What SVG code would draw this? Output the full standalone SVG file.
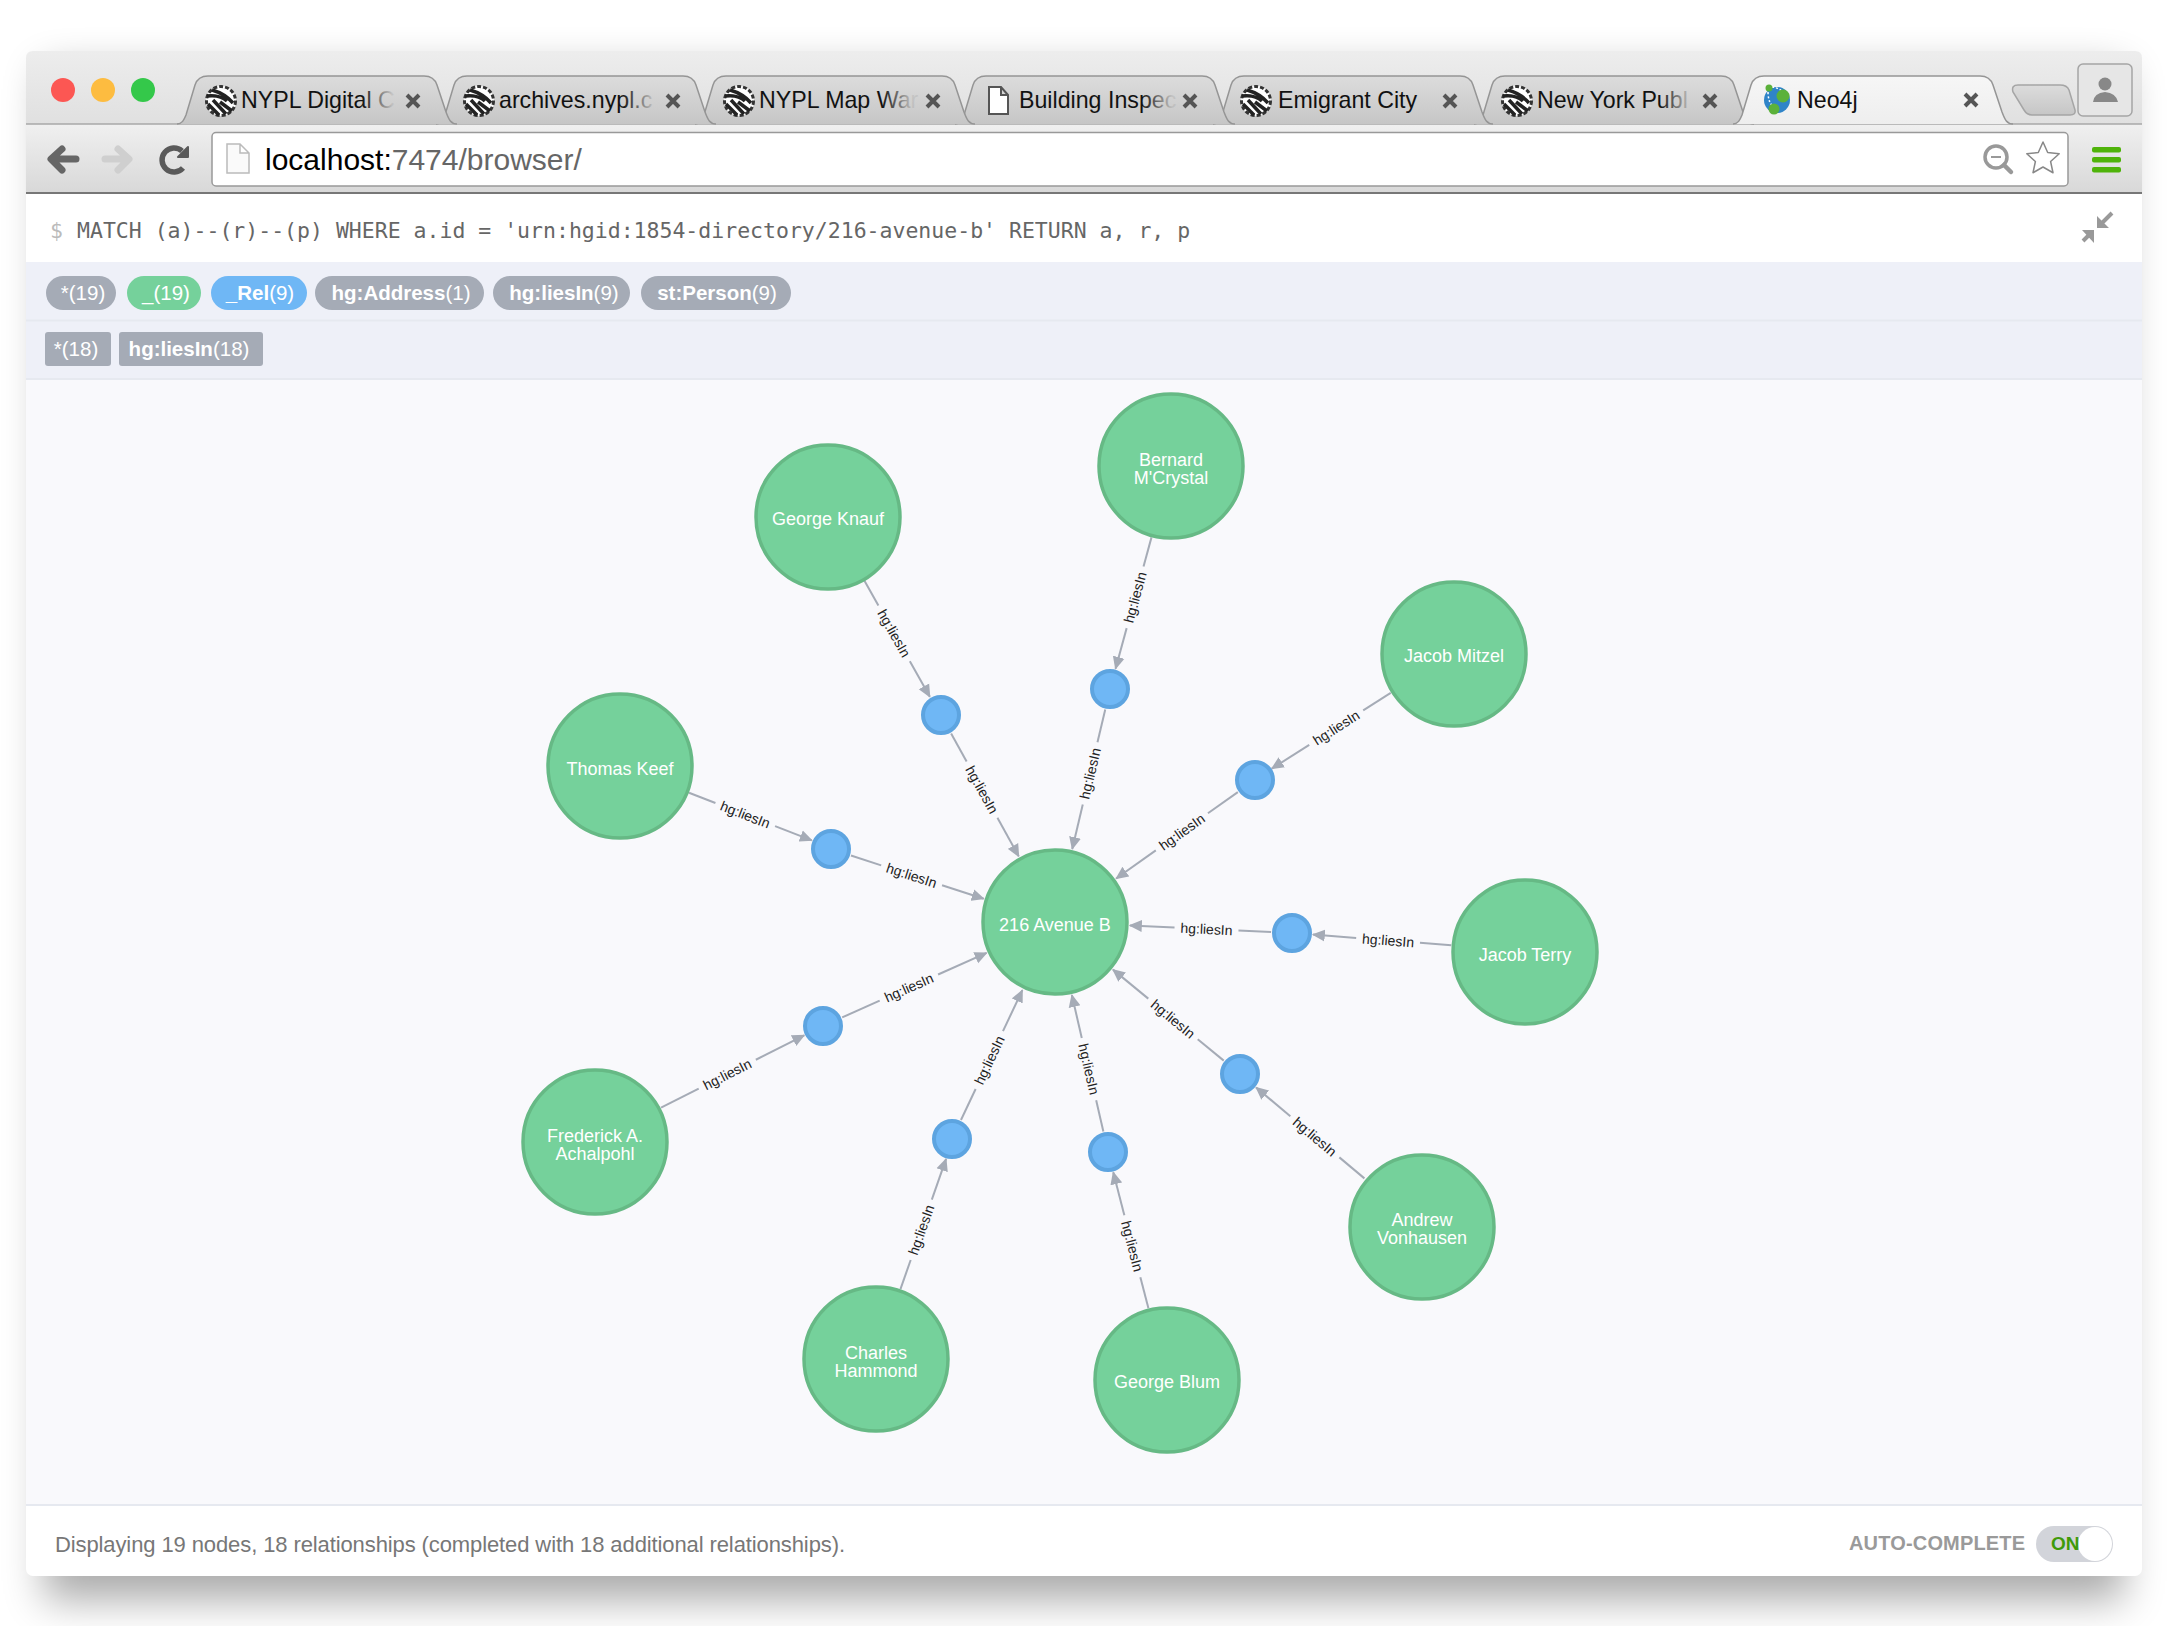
<svg xmlns="http://www.w3.org/2000/svg" xmlns:xlink="http://www.w3.org/1999/xlink" width="2168" height="1626" viewBox="0 0 2168 1626">
<style>
text{font-family:"Liberation Sans",Arial,sans-serif}
.tt{font-size:23.2px;fill:#111}
.x{stroke:#555;stroke-width:4;fill:none}
.c{stroke:#A5ABB6;stroke-width:2;fill:none}
.a{marker-end:url(#arrow)}
.l{font-size:14px;fill:#222;text-anchor:middle}
.n{fill:#75D19B;stroke:#66B985;stroke-width:3.5}
.r{fill:#6FB7F5;stroke:#5DA4E0;stroke-width:4}
.nt{font-size:18px;fill:#fff;text-anchor:middle}
.p{font-size:20.5px;fill:#fff;text-anchor:middle}
.p tspan{font-weight:bold}
.gp{fill:#A5ABB6}
</style>
<defs>
<filter id="sh" x="-10%" y="-10%" width="120%" height="120%"><feGaussianBlur stdDeviation="20"/></filter>
<linearGradient id="strip" x1="0" y1="0" x2="0" y2="1"><stop offset="0" stop-color="#EDEDED"/><stop offset="1" stop-color="#E0E0E0"/></linearGradient>
<linearGradient id="bar" x1="0" y1="0" x2="0" y2="1"><stop offset="0" stop-color="#F0F0F0"/><stop offset="1" stop-color="#D8D8D8"/></linearGradient>
<linearGradient id="tabg" x1="0" y1="0" x2="0" y2="1"><stop offset="0" stop-color="#DCDCDC"/><stop offset="1" stop-color="#C6C6C6"/></linearGradient>
<linearGradient id="tabon" x1="0" y1="0" x2="0" y2="1"><stop offset="0" stop-color="#F6F6F6"/><stop offset="1" stop-color="#EEEEEE"/></linearGradient>
<linearGradient id="f1" gradientUnits="userSpaceOnUse" x1="362" y1="0" x2="392" y2="0"><stop offset="0" stop-color="#111"/><stop offset="1" stop-color="#111" stop-opacity=".08"/></linearGradient>
<linearGradient id="f2" gradientUnits="userSpaceOnUse" x1="622" y1="0" x2="653" y2="0"><stop offset="0" stop-color="#111"/><stop offset="1" stop-color="#111" stop-opacity=".08"/></linearGradient>
<linearGradient id="f3" gradientUnits="userSpaceOnUse" x1="882" y1="0" x2="912" y2="0"><stop offset="0" stop-color="#111"/><stop offset="1" stop-color="#111" stop-opacity=".08"/></linearGradient>
<linearGradient id="f4" gradientUnits="userSpaceOnUse" x1="1142" y1="0" x2="1172" y2="0"><stop offset="0" stop-color="#111"/><stop offset="1" stop-color="#111" stop-opacity=".08"/></linearGradient>
<linearGradient id="f6" gradientUnits="userSpaceOnUse" x1="1660" y1="0" x2="1690" y2="0"><stop offset="0" stop-color="#111"/><stop offset="1" stop-color="#111" stop-opacity=".08"/></linearGradient>
<marker id="arrow" markerUnits="userSpaceOnUse" markerWidth="13" markerHeight="13" viewBox="0 0 12 12" refX="11" refY="6" orient="auto"><path d="M0 0.5L12 6L0 11.5z" fill="#A5ABB6"/></marker>
<path id="tab" d="M177 124C182 124 184 120 186 115L195 85Q198 76 208 76H424Q434 76 437 85L446 112C449 120 451 124 457 124"/>
<g id="fav"><circle r="15" fill="#fff"/><circle r="14.500" fill="none" stroke="#333" stroke-width="3" stroke-dasharray="4 2"/><path d="M-9 -11C-2 -9 6 -5 12 2M-14 -5C-6 -6 2 -4 6 0M-13 3L-2 14M-8 -1L5 13M-1 1L11 10" fill="none" stroke="#222" stroke-width="3.500"/></g>
</defs>
<rect width="2168" height="1626" fill="#fff"/>
<rect x="44" y="70" width="2080" height="1530" fill="#000" opacity=".33" filter="url(#sh)"/>
<g id="window">
<rect x="26" y="51" width="2116" height="1525" rx="7" fill="#fff"/>
<path d="M26 124V58Q26 51 33 51H2135Q2142 51 2142 58V124Z" fill="url(#strip)"/>
<rect x="26" y="124" width="2116" height="69" fill="url(#bar)"/>
<line x1="26" y1="124" x2="2142" y2="124" stroke="#A8A8A8" stroke-width="1.500"/>
<line x1="26" y1="193" x2="2142" y2="193" stroke="#777" stroke-width="2"/>
</g>
<g id="lights"><circle cx="63" cy="90" r="12" fill="#FC5753"/><circle cx="103" cy="90" r="12" fill="#FDBC40"/><circle cx="143" cy="90" r="12" fill="#34C84A"/></g>
<g id="tabs" stroke="#959595" stroke-width="1.500" fill="url(#tabg)">
<use xlink:href="#tab" href="#tab" transform="translate(1297 0)"/>
<use xlink:href="#tab" href="#tab" transform="translate(1036 0)"/>
<use xlink:href="#tab" href="#tab" transform="translate(778 0)"/>
<use xlink:href="#tab" href="#tab" transform="translate(518 0)"/>
<use xlink:href="#tab" href="#tab" transform="translate(259 0)"/>
<use xlink:href="#tab" href="#tab"/>
<use xlink:href="#tab" href="#tab" transform="translate(1556 0)" fill="url(#tabon)"/>
<path d="M2018 85H2060Q2067 85 2069 90L2075 110Q2076 115 2070 115H2032Q2027 115 2024 110L2013 92Q2011 85 2018 85Z" fill="url(#tabg)" stroke="#A5A5A5"/>
</g>
<g id="tabcontent">
<use href="#fav" xlink:href="#fav" transform="translate(221 101)"/><text class="tt" x="241" y="108" style="fill:url(#f1)">NYPL Digital C</text><path class="x" d="M407 95L419 107M419 95L407 107"/>
<use href="#fav" xlink:href="#fav" transform="translate(479 101)"/><text class="tt" x="499" y="108" style="fill:url(#f2)">archives.nypl.c</text><path class="x" d="M667 95L679 107M679 95L667 107"/>
<use href="#fav" xlink:href="#fav" transform="translate(739 101)"/><text class="tt" x="759" y="108" style="fill:url(#f3)">NYPL Map War</text><path class="x" d="M927 95L939 107M939 95L927 107"/>
<path d="M989 87H1001L1008 95V114H989Z M1001 87V95H1008" fill="#fff" stroke="#555" stroke-width="2"/><text class="tt" x="1019" y="108" style="fill:url(#f4)">Building Inspec</text><path class="x" d="M1184 95L1196 107M1196 95L1184 107"/>
<use href="#fav" xlink:href="#fav" transform="translate(1256 101)"/><text class="tt" x="1278" y="108">Emigrant City</text><path class="x" d="M1444 95L1456 107M1456 95L1444 107"/>
<use href="#fav" xlink:href="#fav" transform="translate(1517 101)"/><text class="tt" x="1537" y="108" style="fill:url(#f6)">New York Publ</text><path class="x" d="M1704 95L1716 107M1716 95L1704 107"/>
<circle cx="1777" cy="100" r="13" fill="#2F84C8"/><path d="M1768 92Q1768 104 1776 109M1772 87Q1780 88 1785 94" fill="none" stroke="#fff" stroke-width="1.500" stroke-dasharray="2 2"/><circle cx="1783" cy="96" r="6.500" fill="#5BB13A"/><circle cx="1774" cy="109" r="5.500" fill="#5BB13A"/><circle cx="1769" cy="88" r="3.500" fill="#5BB13A"/><text class="tt" x="1797" y="108">Neo4j</text><path class="x" d="M1965 94L1977 106M1977 94L1965 106"/>
</g>
<g id="profile"><rect x="2078" y="64" width="54" height="52" rx="5" fill="#E6E6E6" stroke="#A5A5A5" stroke-width="1.500"/><circle cx="2105" cy="84" r="6.500" fill="#888"/><path d="M2093 102Q2094 93 2105 92Q2116 93 2118 102Z" fill="#888"/></g>
<g id="nav" fill="none" stroke-linecap="round" stroke-linejoin="round">
<path d="M76 159H52M62 149L51 159L62 170" stroke="#666" stroke-width="7"/>
<path d="M105 159H128M118 149L129 159L118 170" stroke="#CFCFCF" stroke-width="7"/>
<path d="M183 168A12 12 0 1 1 182 151" stroke="#5A5A5A" stroke-width="5.500" stroke-linecap="butt"/><path d="M178 157L188 157L188 147Z" fill="#5A5A5A" stroke="#5A5A5A" stroke-width="2"/>
</g>
<g id="address">
<rect x="212" y="132.500" width="1856" height="53.500" rx="4" fill="#fff" stroke="#999" stroke-width="1.500"/>
<path d="M227 144H240L249 153V173H227Z M240 144V153H249" fill="#FAFAFA" stroke="#BBB" stroke-width="1.500"/>
<text x="265" y="170" font-size="30" fill="#000">localhost:<tspan fill="#666">7474/browser/</tspan></text>
<circle cx="1996" cy="157" r="11" fill="none" stroke="#999" stroke-width="3.500"/><path d="M1991 157H2001" stroke="#999" stroke-width="2"/><path d="M2004 165L2011 172" stroke="#999" stroke-width="4.500" stroke-linecap="round"/>
<path d="M2043 142L2047.700 152.500L2059.200 153.750L2050.600 161.500L2053 172.750L2043 167L2033 172.750L2035.400 161.500L2026.800 153.750L2038.300 152.500Z" fill="#fff" stroke="#888" stroke-width="1.500" stroke-linejoin="round"/>
<g fill="#4FB30A"><rect x="2092" y="147" width="29" height="5.500" rx="2"/><rect x="2092" y="157" width="29" height="5.500" rx="2"/><rect x="2092" y="167" width="29" height="5.500" rx="2"/></g>
</g>
<g id="query">
<text x="50" y="238" font-size="21.500" fill="#bbb" style="font-family:'DejaVu Sans Mono','Liberation Mono',monospace">$</text>
<text x="77" y="238" font-size="21.500" fill="#666" style="font-family:'DejaVu Sans Mono','Liberation Mono',monospace">MATCH (a)--(r)--(p) WHERE a.id = 'urn:hgid:1854-directory/216-avenue-b' RETURN a, r, p</text>
<path d="M2112 213L2102 223M2083 241L2092 232" fill="none" stroke="#999" stroke-width="4"/>
<path d="M2097 228V216L2109 228ZM2094 230V243L2082 230Z" fill="#999"/>
</g>
<g id="filters">
<rect x="26" y="262" width="2116" height="117" fill="#EEF0F8"/>
<line x1="26" y1="320.500" x2="2142" y2="320.500" stroke="#E6E9F0" stroke-width="2"/>
<line x1="26" y1="379" x2="2142" y2="379" stroke="#E6E9F0" stroke-width="2"/>
<rect class="gp" x="46" y="276" width="70" height="34" rx="17"/><text class="p" x="83" y="300">*(19)</text>
<rect x="127" y="276" width="74" height="34" rx="17" fill="#75D19B"/><text class="p" x="166" y="300">_(19)</text>
<rect x="211" y="276" width="96" height="34" rx="17" fill="#6FB7F5"/><text class="p" x="260" y="300"><tspan>_Rel</tspan>(9)</text>
<rect class="gp" x="315" y="276" width="169" height="34" rx="17"/><text class="p" x="401" y="300"><tspan>hg:Address</tspan>(1)</text>
<rect class="gp" x="493" y="276" width="137" height="34" rx="17"/><text class="p" x="564" y="300"><tspan>hg:liesIn</tspan>(9)</text>
<rect class="gp" x="641" y="276" width="150" height="34" rx="17"/><text class="p" x="717" y="300"><tspan>st:Person</tspan>(9)</text>
<rect class="gp" x="45" y="332" width="66" height="34" rx="3"/><text class="p" x="76" y="356">*(18)</text>
<rect class="gp" x="119" y="332" width="144" height="34" rx="3"/><text class="p" x="189" y="356"><tspan>hg:liesIn</tspan>(18)</text>
</g>
<rect id="canvas" x="26" y="380" width="2116" height="1124" fill="#F9F9FC"/>
<g id="connectors">
<g transform="translate(828 516) rotate(60.600)"><line class="c" x1="74" x2="102.700"/><line class="c a" x1="166.700" x2="207.400"/><text class="l" x="134.700" y="5">hg:liesIn</text></g>
<g transform="translate(1110 689) rotate(-74.700)"><line class="c" x1="127.100" x2="157.200"/><line class="c a" x1="63.100" x2="21"/><text class="l" x="95.100" y="5">hg:liesIn</text></g>
<g transform="translate(1254 780) rotate(-32.500)"><line class="c" x1="129.500" x2="162.100"/><line class="c a" x1="65.500" x2="21"/><text class="l" x="97.500" y="5">hg:liesIn</text></g>
<g transform="translate(620 766) rotate(21.200)"><line class="c" x1="74" x2="102.350"/><line class="c a" x1="166.350" x2="205.700"/><text class="l" x="134.350" y="5">hg:liesIn</text></g>
<g transform="translate(1292 933) rotate(4.400)"><line class="c" x1="128.350" x2="159.700"/><line class="c a" x1="64.350" x2="21"/><text class="l" x="96.350" y="5">hg:liesIn</text></g>
<g transform="translate(595 1141) rotate(-26.800)"><line class="c" x1="74" x2="116.200"/><line class="c a" x1="180.200" x2="234.400"/><text class="l" x="148.200" y="5">hg:liesIn</text></g>
<g transform="translate(876 1359) rotate(-70.700)"><line class="c" x1="74" x2="104.900"/><line class="c a" x1="168.900" x2="212"/><text class="l" x="136.900" y="5">hg:liesIn</text></g>
<g transform="translate(1108 1152) rotate(75.500)"><line class="c" x1="129.250" x2="161.500"/><line class="c a" x1="65.250" x2="21"/><text class="l" x="97.250" y="5">hg:liesIn</text></g>
<g transform="translate(1240 1074) rotate(40)"><line class="c" x1="129.700" x2="162.400"/><line class="c a" x1="65.700" x2="21"/><text class="l" x="97.700" y="5">hg:liesIn</text></g>
<g transform="translate(941 715) rotate(61.200)"><line class="c" x1="21" x2="53.150"/><line class="c a" x1="117.150" x2="161.300"/><text class="l" x="85.150" y="5">hg:liesIn</text></g>
<g transform="translate(1055 922) rotate(-76.700)"><line class="c" x1="184.700" x2="218.400"/><line class="c a" x1="120.700" x2="75"/><text class="l" x="152.700" y="5">hg:liesIn</text></g>
<g transform="translate(1055 922) rotate(-35.400)"><line class="c" x1="187.650" x2="224.300"/><line class="c a" x1="123.650" x2="75"/><text class="l" x="155.650" y="5">hg:liesIn</text></g>
<g transform="translate(831 849) rotate(18.050)"><line class="c" x1="21" x2="52.800"/><line class="c a" x1="116.800" x2="160.600"/><text class="l" x="84.800" y="5">hg:liesIn</text></g>
<g transform="translate(1055 922) rotate(2.660)"><line class="c" x1="183.650" x2="216.300"/><line class="c a" x1="119.650" x2="75"/><text class="l" x="151.650" y="5">hg:liesIn</text></g>
<g transform="translate(823 1026) rotate(-24.100)"><line class="c" x1="21" x2="62.100"/><line class="c a" x1="126.100" x2="179.200"/><text class="l" x="94.100" y="5">hg:liesIn</text></g>
<g transform="translate(952 1139) rotate(-64.700)"><line class="c" x1="21" x2="55.300"/><line class="c a" x1="119.300" x2="164.600"/><text class="l" x="87.300" y="5">hg:liesIn</text></g>
<g transform="translate(1055 922) rotate(77)"><line class="c" x1="183" x2="215"/><line class="c a" x1="119" x2="75"/><text class="l" x="151" y="5">hg:liesIn</text></g>
<g transform="translate(1055 922) rotate(39.400)"><line class="c" x1="184.700" x2="218.400"/><line class="c a" x1="120.700" x2="75"/><text class="l" x="152.700" y="5">hg:liesIn</text></g>
</g>
<g id="node-center"><circle class="n" cx="1055" cy="922" r="72"/><text class="nt" x="1055" y="931">216 Avenue B</text></g>
<g id="node-george-knauf"><circle class="n" cx="828" cy="517" r="72"/><text class="nt" x="828" y="525">George Knauf</text></g>
<g id="node-bernard"><circle class="n" cx="1171" cy="466" r="72"/><text class="nt" x="1171" y="466">Bernard</text><text class="nt" x="1171" y="484">M'Crystal</text></g>
<g id="node-jacob-mitzel"><circle class="n" cx="1454" cy="654" r="72"/><text class="nt" x="1454" y="662">Jacob Mitzel</text></g>
<g id="node-thomas-keef"><circle class="n" cx="620" cy="766" r="72"/><text class="nt" x="620" y="775">Thomas Keef</text></g>
<g id="node-jacob-terry"><circle class="n" cx="1525" cy="952" r="72"/><text class="nt" x="1525" y="961">Jacob Terry</text></g>
<g id="node-frederick"><circle class="n" cx="595" cy="1142" r="72"/><text class="nt" x="595" y="1142">Frederick A.</text><text class="nt" x="595" y="1160">Achalpohl</text></g>
<g id="node-charles"><circle class="n" cx="876" cy="1359" r="72"/><text class="nt" x="876" y="1359">Charles</text><text class="nt" x="876" y="1377">Hammond</text></g>
<g id="node-george-blum"><circle class="n" cx="1167" cy="1380" r="72"/><text class="nt" x="1167" y="1388">George Blum</text></g>
<g id="node-andrew"><circle class="n" cx="1422" cy="1227" r="72"/><text class="nt" x="1422" y="1226">Andrew</text><text class="nt" x="1422" y="1244">Vonhausen</text></g>
<g id="rel-1"><circle class="r" cx="941" cy="715" r="18"/></g>
<g id="rel-2"><circle class="r" cx="1110" cy="689" r="18"/></g>
<g id="rel-3"><circle class="r" cx="1255" cy="780" r="18"/></g>
<g id="rel-4"><circle class="r" cx="831" cy="849" r="18"/></g>
<g id="rel-5"><circle class="r" cx="1292" cy="933" r="18"/></g>
<g id="rel-6"><circle class="r" cx="823" cy="1026" r="18"/></g>
<g id="rel-7"><circle class="r" cx="952" cy="1139" r="18"/></g>
<g id="rel-8"><circle class="r" cx="1108" cy="1152" r="18"/></g>
<g id="rel-9"><circle class="r" cx="1240" cy="1074" r="18"/></g>
<g id="footer">
<line x1="26" y1="1505" x2="2142" y2="1505" stroke="#E6E9F0" stroke-width="2"/>
<text x="55" y="1552" font-size="22" fill="#777" textLength="790">Displaying 19 nodes, 18 relationships (completed with 18 additional relationships).</text>
<text x="1849" y="1550" font-size="20" font-weight="bold" fill="#9A9A9A" textLength="176">AUTO-COMPLETE</text>
<rect x="2036" y="1526" width="77" height="36" rx="18" fill="#D2D4DA"/>
<circle cx="2095" cy="1544" r="17" fill="#fff"/>
<text x="2051" y="1550" font-size="19" font-weight="bold" fill="#3F9A0A">ON</text>
</g>
</svg>
